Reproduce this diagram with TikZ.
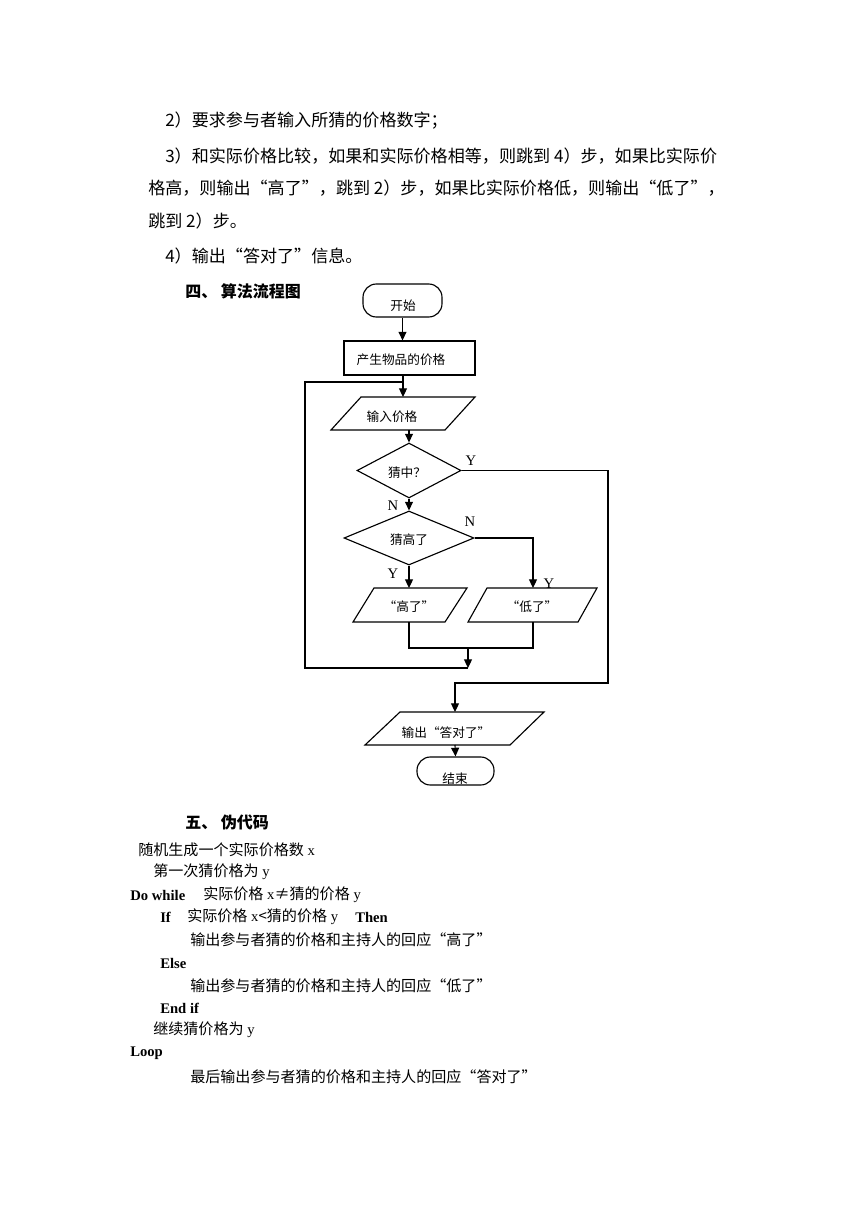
\documentclass[tikz,border=0pt]{standalone}
\usepackage{fontspec}
\setmainfont{Liberation Serif}
\newfontfamily\cjk{Noto Sans CJK SC}
\usetikzlibrary{arrows.meta,shapes.geometric}
\newcommand\zh[1]{{\cjk\fontsize{11.3}{13}\selectfont #1}}
\tikzset{
  line/.style={line width=0.85pt, draw=black},
  arr/.style={line, -{Triangle[width=6pt,length=6.5pt]}},
  ftxt/.style={inner sep=0pt, font=\cjk\fontsize{9.5}{12}\selectfont},
  term/.style={draw, line width=0.85pt, rounded corners=10pt, inner sep=0pt},
  proc/.style={draw, line width=0.85pt, inner sep=0pt},
  dec/.style={draw, diamond, line width=0.85pt, inner sep=0pt},
  body/.style={anchor=west, inner sep=0pt, font=\cjk\fontsize{12.8}{16}\selectfont},
  head/.style={anchor=west, inner sep=0pt, font=\cjk\bfseries\fontsize{12}{14}\selectfont},
  code/.style={anchor=west, inner sep=0pt, font=\fontsize{11}{13}\selectfont},
  yn/.style={inner sep=0pt, font=\fontsize{11}{13}\selectfont},
}
\begin{document}
\begin{tikzpicture}[x=0.75pt,y=-0.75pt]
\fill[white] (0,0) rectangle (860,1216);
\useasboundingbox (0,0) rectangle (860,1216);

% ---- body text ----
\node[body] (t1) at (165,121) {2）要求参与者输入所猜的价格数字；};
\node[body] (t2) at (165,156) {3）和实际价格比较，如果和实际价格相等，则跳到 4）步，如果比实际价};
\node[body] (t3) at (148,188) {格高，则输出“高了”，跳到 2）步，如果比实际价格低，则输出“低了”，};
\node[body] (t4) at (148,221) {跳到 2）步。};
\node[body] (t5) at (165,256) {4）输出“答对了”信息。};
\node[head] (h4) at (185,291) {四、 算法流程图};

% ---- flowchart ----
\node[term, minimum width=59.25pt, minimum height=24.75pt] (start) at (402.5,300.5) {};
\node[ftxt] (startT) at (403,306) {开始};
\node[proc, minimum width=98.25pt, minimum height=25.5pt] (proc) at (409.5,358) {};
\node[ftxt] (procT) at (401,360) {产生物品的价格};

\draw[line] (361,397) -- (475,397) -- (445,430) -- (331,430) -- cycle;
\node[ftxt] (inT) at (392,417) {输入价格};
\coordinate (inTop) at (403,397);
\coordinate (inBot) at (409,430);

\node[dec, minimum width=78pt, minimum height=41.25pt] (d1) at (409,470.5) {};
\node[ftxt] (d1T) at (407,473) {猜中？};
\node[dec, minimum width=97.5pt, minimum height=40.5pt] (d2) at (409,538) {};
\node[ftxt] (d2T) at (409,540) {猜高了};

\draw[line] (374,588) -- (467,588) -- (445,622) -- (353,622) -- cycle;
\node[ftxt] (hiT) at (409,607) {“高了”};
\coordinate (hiTop) at (409,588);
\coordinate (hiBot) at (409,622);

\draw[line] (487,588) -- (597,588) -- (578,622) -- (468,622) -- cycle;
\node[ftxt] (loT) at (532,607) {“低了”};
\coordinate (loTop) at (533,588);
\coordinate (loBot) at (533,622);

\draw[line] (400,712) -- (544,712) -- (510,745) -- (365,745) -- cycle;
\node[ftxt] (outT) at (446,733) {输出“答对了”};
\coordinate (outTop) at (455,712);
\coordinate (outBot) at (455,745);

\node[term, minimum width=57.75pt, minimum height=21pt] (end) at (455.5,771) {};
\node[ftxt] (endT) at (455,779) {结束};

\coordinate (join) at (468,648);
\coordinate (loopC) at (468,668);

% connectors
\draw[arr] (start.south) -- (start.south |- proc.north);
\draw[arr] (proc.south -| inTop) -- (inTop);
\draw[arr] (inBot) -- (d1.north);
\draw[arr] (d1.south) -- (d2.north);
\draw[arr] (d2.south) -- (hiTop);
\draw[arr] (d2.east) -| (loTop);
\draw[line] (hiBot) -- (hiBot |- join) -| (loBot);
\draw[arr] (join) -- (loopC);
\draw[line] (loopC) -- (305,668) -- (305,382) -- (403,382);
\draw[arr] (d1.east) -- (608,470.5) -- (608,683) -| (outTop);
\draw[arr] (outBot) -- (end.north);

% Y/N labels
\node[yn] (y1) at (471,461) {Y};
\node[yn] (n1) at (393,506) {N};
\node[yn] (n2) at (470,522) {N};
\node[yn] (y2) at (393,574) {Y};
\node[yn] (y3) at (549,584) {Y};

% ---- pseudocode ----
\node[head] (h5) at (185,822) {五、 伪代码};
\node[code] (c1) at (138,850) {\zh{随机生成一个实际价格数} x};
\node[code] (c2) at (153,872) {\zh{第一次猜价格为} y};
\node[code] (c3a) at (130,895) {\textbf{Do while}};
\node[code] (c3b) at (203,895) {\zh{实际价格} x\zh{≠猜的价格} y};
\node[code] (c4a) at (160,917) {\textbf{If}};
\node[code] (c4b) at (187,917) {\zh{实际价格} x\zh{<猜的价格} y};
\node[code] (c4c) at (355,917) {\textbf{Then}};
\node[code] (c5) at (190,940) {\zh{输出参与者猜的价格和主持人的回应“高了”}};
\node[code] (c6) at (160,963) {\textbf{Else}};
\node[code] (c7) at (190,986) {\zh{输出参与者猜的价格和主持人的回应“低了”}};
\node[code] (c8) at (160,1008) {\textbf{End if}};
\node[code] (c9) at (153,1030) {\zh{继续猜价格为} y};
\node[code] (c10) at (130,1053) {\textbf{Loop}};
\node[code] (c11) at (190,1077) {\zh{最后输出参与者猜的价格和主持人的回应“答对了”}};
\end{tikzpicture}
\end{document}
